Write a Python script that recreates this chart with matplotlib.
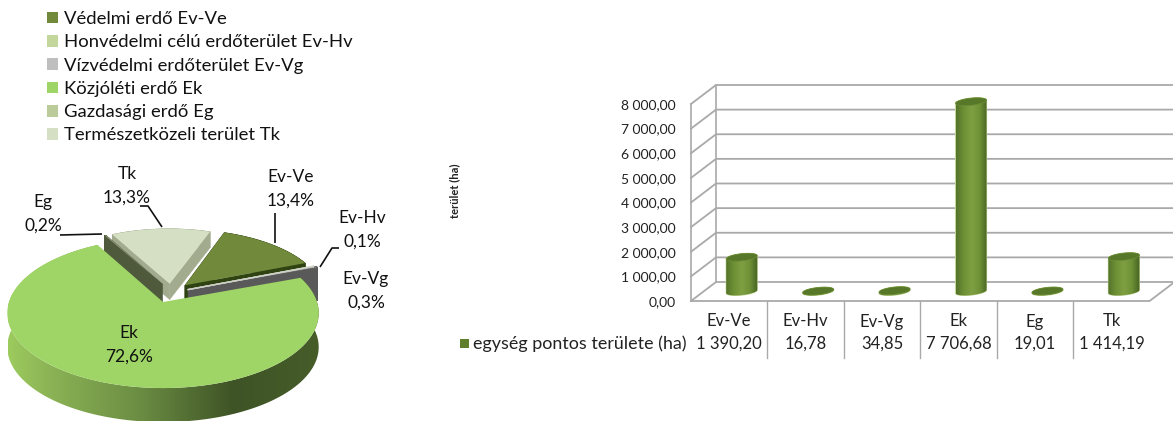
import numpy as np
import matplotlib
matplotlib.use("Agg")
import matplotlib.pyplot as plt
from matplotlib.patches import Polygon, Patch, Rectangle
from matplotlib.colors import LinearSegmentedColormap

plt.rcParams['font.family'] = ['Lato', 'DejaVu Sans']

codes = ['Ev-Ve', 'Ev-Hv', 'Ev-Vg', 'Ek', 'Eg', 'Tk']
legend_names = ['Védelmi erdő Ev-Ve', 'Honvédelmi célú erdőterület Ev-Hv', 'Vízvédelmi erdőterület Ev-Vg',
                'Közjóléti erdő Ek', 'Gazdasági erdő Eg', 'Természetközeli terület Tk']
shares = [13.4, 0.1, 0.3, 72.6, 0.2, 13.3]
share_labels = ['13,4%', '0,1%', '0,3%', '72,6%', '0,2%', '13,3%']
areas = [1390.20, 16.78, 34.85, 7706.68, 19.01, 1414.19]
area_labels = ['1 390,20', '16,78', '34,85', '7 706,68', '19,01', '1 414,19']
yticks = [0, 1000, 2000, 3000, 4000, 5000, 6000, 7000, 8000]
ytick_labels = ['0,00', '1 000,00', '2 000,00', '3 000,00', '4 000,00', '5 000,00', '6 000,00', '7 000,00', '8 000,00']
series_name = 'egység pontos területe (ha)'
y_title = 'terület (ha)'

W, H = 1173, 421
fig = plt.figure(figsize=(W / 100, H / 100), dpi=100)
bg = fig.add_axes([0, 0, 1, 1])
bg.set_xlim(0, W)
bg.set_ylim(H, 0)
bg.axis('off')

legend_colors = ['#70893b', '#c3d69b', '#bfbfbf', '#9fd566', '#bccb9a', '#d5dfc3']
top_colors = ['#70893b', '#dfe3d3', '#7a7a7a', '#9fd566', '#8a9477', '#d5dfc3']
side_colors = ['#2f4212', '#cfd2c8', '#595959', '#3f5326', '#4f5a3c', '#a3ab8e']

# ---- pie: a perspective projection of a unit circle
CX, CY, K, A, B = 163.0, 302.0, 0.147, 73.4, 154.0
def project(u, v):
    d = 1 + K * v
    return CX + B * u / d, CY - A * v / d

start = 20.0
frac = np.array(shares) / sum(shares) * 360
edges = start + np.concatenate([[0], np.cumsum(frac)])
slices = {  # offset (u, v), radius, extrusion
    'Ev-Ve': ((0.147, 0.235), 0.92, 34),
    'Ev-Hv': ((0.165, 0.180), 0.955, 1),
    'Ev-Vg': ((0.167, 0.170), 0.97, 33),
    'Ek':    ((0.0, 0.0), 1.0, 34),
    'Eg':    ((-0.005, 0.255), 0.90, 18),
    'Tk':    ((0.045, 0.260), 0.91, 16),
}
def wedge(i):
    (ou, ov), r, depth = slices[codes[i]]
    t = np.radians(np.linspace(edges[i], edges[i + 1], 160))
    u = np.r_[ou, ou + r * np.sin(t)]
    v = np.r_[ov, ov + r * np.cos(t)]
    x, y = project(u, v)
    return x, y, depth

def draw_slice(i, z):
    x, y, depth = wedge(i)
    # extrusion: sweep the top outline downwards
    for j in range(len(x)):
        k = (j + 1) % len(x)
        bg.add_patch(Polygon([(x[j], y[j]), (x[k], y[k]), (x[k], y[k] + depth), (x[j], y[j] + depth)],
                             fc=side_colors[i], ec=side_colors[i], lw=0.3, zorder=z))
    bg.add_patch(Polygon(np.c_[x, y], fc=top_colors[i], ec='none', zorder=z + 0.5))

for z, i in enumerate([5, 4, 0, 2, 1]):
    draw_slice(i, 2 + z)

# the big slice, with a gradient on its rim
ek = codes.index('Ek')
x, y, depth = wedge(ek)
rim = Polygon(np.r_[np.c_[x[1:], y[1:]], np.c_[x[1:][::-1], y[1:][::-1] + depth]], transform=bg.transData, fc='none', ec='none')
bg.add_patch(rim)
rim_cmap = LinearSegmentedColormap.from_list('rim', [(0, '#9ccb5e'), (0.12, '#8db556'), (0.42, '#6b8d43'),
                                                     (0.72, '#3f5426'), (1, '#465c29')])
im = bg.imshow(np.linspace(0, 1, 256)[None, :], extent=[8, 320, H, 240], cmap=rim_cmap, aspect='auto', zorder=8)
im.set_clip_path(rim)
bg.set_xlim(0, W)
bg.set_ylim(H, 0)
bg.add_patch(Polygon(np.c_[x, y], fc=top_colors[ek], ec='none', zorder=9))

pie_label_pos = [(291, 177), (362, 218), (366, 279), (129, 333), (43, 202), (127, 174)]
for c, s, (lx, ly) in zip(codes, share_labels, pie_label_pos):
    bg.text(lx, ly, c, ha='center', va='center', fontsize=12.5, color='#111111', zorder=12)
    bg.text(lx, ly + 24, s, ha='center', va='center', fontsize=12.5, color='#111111', zorder=12)
for pts in [[(140, 206), (148, 206), (162, 227)], [(60, 235), (102, 234)], [(275, 213), (275, 243)],
            [(339, 248), (332, 248), (320, 267)]]:
    bg.plot(*zip(*pts), color='#111111', lw=1.2, zorder=11, solid_capstyle='butt')

handles = [Patch(fc=c, ec='none') for c in legend_colors]
bg.legend(handles, legend_names, loc='upper left', bbox_to_anchor=(47 / W, 1 - 11 / H), frameon=False,
          fontsize=13.3, handlelength=0.6, handleheight=0.6, handletextpad=0.3, labelspacing=0.395,
          borderpad=0, borderaxespad=0, labelcolor='#111111')

# ---- cylinders
LEFT, RIGHT, BASE, TOP = 691.0, 1149.6, 301.0, 104.0
ax = fig.add_axes([LEFT / W, 1 - BASE / H, (RIGHT - LEFT) / W, (BASE - TOP) / H])
ax.patch.set_visible(False)
for s in ax.spines.values():
    s.set_visible(False)
ax.set_xlim(-0.5, 5.5)
ax.set_ylim(0, 8000)
DX, DY = 25 / 76.43, 19 * 8000 / 197
grid = '#a9a9a9'
xl, xr = -0.5, 5.5
for t in yticks:
    ax.plot([xl, xl + DX, xr + DX], [t, t + DY, t + DY], color=grid, lw=1.3, clip_on=False, zorder=1)
ax.plot([xl, xl], [0, 8000], color=grid, lw=1.2, clip_on=False, zorder=1)
ax.plot([xl + DX, xl + DX], [DY, 8000 + DY], color=grid, lw=1.2, clip_on=False, zorder=1)
ax.plot([xl, xr, xr + DX], [0, 0, DY], color=grid, lw=1.3, clip_on=False, zorder=1)

ax.set_yticks(yticks, ytick_labels, fontsize=10, color='#222222')
ax.set_xticks(range(len(codes)), codes, fontsize=12, color='#222222')
ax.tick_params(axis='y', length=0, pad=11)
ax.tick_params(axis='x', length=0, pad=9)

bar_cmap = LinearSegmentedColormap.from_list('bar', ['#55742a', '#6f9136', '#7f9f42', '#6f9136', '#466322'])
HW, HH, TILT = 0.203, 3.6 * 8000 / 197, 1.6 * 8000 / 197
t = np.linspace(0, 2 * np.pi, 80)
for i, v in enumerate(areas):
    c = i + DX / 2
    base = DY / 2
    ex = HW * np.cos(t)
    ey = HH * np.sin(t) + TILT * np.cos(t)
    low = t >= np.pi
    up = t <= np.pi
    body = np.r_[np.c_[c + ex[low], base + ey[low]], np.c_[c + ex[up], base + v + ey[up]]]
    clip = Polygon(body, transform=ax.transData, fc='#b9cf8a', ec='#c4d79b', lw=0.8, clip_on=False, zorder=3 + i)
    ax.add_patch(clip)
    im = ax.imshow(np.linspace(0, 1, 64)[None, :], extent=[c - HW, c + HW, base - 2 * HH, base + v + 2 * HH],
                   cmap=bar_cmap, aspect='auto', zorder=3.2 + i)
    im.set_clip_path(clip)
    im.set_clip_box(fig.bbox)
    ax.add_patch(Polygon(np.c_[c + ex, base + v + ey], fc='#587829', ec='#6c8c38', lw=0.5, clip_on=False, zorder=3.5 + i))
ax.set_xlim(-0.5, 5.5)
ax.set_ylim(0, 8000)

# ---- data table under the cylinders
row_tr = ax.get_xaxis_transform()
for i, s in enumerate(area_labels):
    ax.text(i, (BASE - 343.5) / (BASE - TOP), s, transform=row_tr, ha='center', va='center', fontsize=12, color='#222222')
for i in range(1, len(codes)):
    ax.plot([i - 0.5, i - 0.5], [0, (BASE - 358) / (BASE - TOP)], transform=row_tr, color=grid, lw=1, clip_on=False, zorder=1)
bg.add_patch(Rectangle((460, 339), 9, 9, fc='#5f7f2d', ec='none'))
bg.text(473, 343.5, series_name, ha='left', va='center', fontsize=12.9, color='#222222')
bg.text(455, 191, y_title, rotation=90, ha='center', va='center', fontsize=8, fontweight='bold', color='#222222')

fig.savefig('out.png', dpi=100)
